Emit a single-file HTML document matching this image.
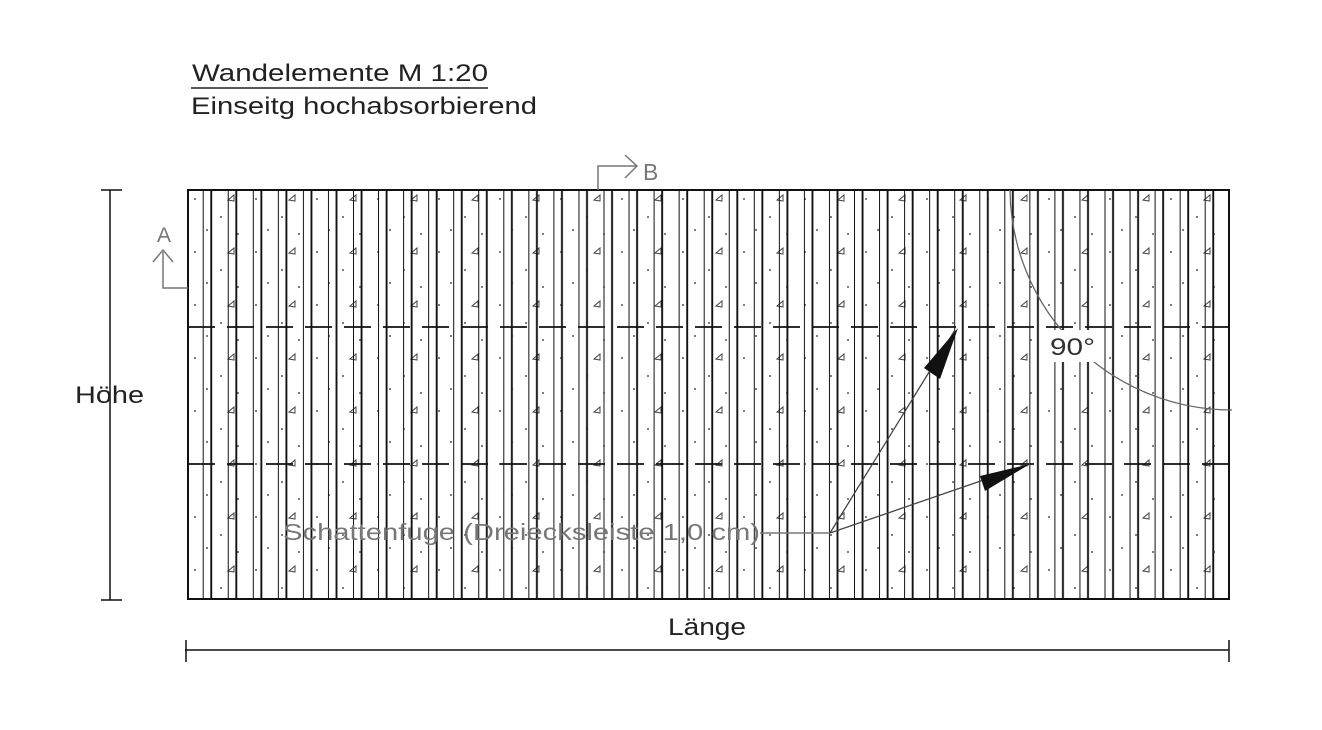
<!DOCTYPE html>
<html><head><meta charset="utf-8"><style>
html,body{margin:0;padding:0;background:#fff;}
svg{display:block;font-family:"Liberation Sans",Arial,sans-serif;}
</style></head><body>
<svg width="1322" height="730" viewBox="0 0 1322 730" xmlns="http://www.w3.org/2000/svg">
<defs>
<pattern id="st" x="202.7" y="0" width="25.05" height="730" patternUnits="userSpaceOnUse">
<rect x="-0.9" y="0" width="1.9" height="730" fill="#111"/>
<rect x="7.6" y="0" width="1.9" height="730" fill="#111"/>
</pattern>
<pattern id="dots" x="188" y="190" width="61" height="53" patternUnits="userSpaceOnUse">
<circle cx="7" cy="9" r="0.9" fill="#222"/><circle cx="33" cy="27" r="0.9" fill="#222"/>
<circle cx="50" cy="44" r="0.9" fill="#222"/><circle cx="19" cy="40" r="0.9" fill="#222"/>
<path d="M40 10 l6 -5 l0 6 z" fill="none" stroke="#444" stroke-width="1"/>
</pattern>
</defs>
<text x="192" y="81" font-size="24" fill="#222" textLength="296" lengthAdjust="spacingAndGlyphs">Wandelemente M 1:20</text>
<line x1="191" y1="88" x2="488" y2="88" stroke="#222" stroke-width="1.5"/>
<text x="191" y="114" font-size="24" fill="#222" textLength="346" lengthAdjust="spacingAndGlyphs">Einseitg hochabsorbierend</text>

<rect x="188" y="190" width="1041" height="409" fill="url(#dots)"/>
<rect x="188" y="190" width="1041" height="409" fill="url(#st)"/>
<rect x="188" y="190" width="1041" height="409" fill="none" stroke="#111" stroke-width="2"/>
<line x1="188" y1="327" x2="1229" y2="327" stroke="#111" stroke-width="1.8" stroke-dasharray="27 12"/>
<line x1="188" y1="464" x2="1229" y2="464" stroke="#111" stroke-width="1.8" stroke-dasharray="27 12"/>

<line x1="110" y1="190" x2="110" y2="600" stroke="#111" stroke-width="1.5"/>
<line x1="101" y1="190" x2="122" y2="190" stroke="#111" stroke-width="1.5"/>
<line x1="101" y1="600" x2="122" y2="600" stroke="#111" stroke-width="1.5"/>
<text x="75" y="403" font-size="24" fill="#222" textLength="69" lengthAdjust="spacingAndGlyphs">Höhe</text>
<line x1="185" y1="650" x2="1229" y2="650" stroke="#111" stroke-width="1.5"/>
<line x1="186" y1="640" x2="186" y2="662" stroke="#111" stroke-width="1.5"/>
<line x1="1229" y1="640" x2="1229" y2="662" stroke="#111" stroke-width="1.5"/>
<text x="668" y="635" font-size="24" fill="#222" textLength="78" lengthAdjust="spacingAndGlyphs">Länge</text>

<text x="157" y="242" font-size="21" fill="#777">A</text>
<polyline points="188,288 163,288 163,252" fill="none" stroke="#777" stroke-width="1.5"/>
<polyline points="153,262 163,250 173,262" fill="none" stroke="#777" stroke-width="1.5"/>
<polyline points="598,190 598,166 636,166" fill="none" stroke="#777" stroke-width="1.5"/>
<polyline points="625,155 637,166 625,178" fill="none" stroke="#777" stroke-width="1.5"/>
<text x="643" y="180" font-size="23" fill="#777">B</text>

<path d="M1010 190 A222 222 0 0 0 1232 410" fill="none" stroke="#666" stroke-width="1.3"/>
<rect x="1046" y="330" width="54" height="32" fill="#fff"/>
<text x="1050" y="355" font-size="24" fill="#333" textLength="45" lengthAdjust="spacingAndGlyphs">90°</text>

<text x="283" y="540" font-size="23" fill="#777" textLength="477" lengthAdjust="spacingAndGlyphs">Schattenfuge (Dreiecksleiste 1,0 cm)</text>
<line x1="760" y1="533" x2="830" y2="533" stroke="#777" stroke-width="1.5"/>
<line x1="830" y1="533" x2="955" y2="330" stroke="#444" stroke-width="1.3"/>
<polygon points="958,328 924,368 940,379" fill="#111"/>
<line x1="830" y1="533" x2="1030" y2="464" stroke="#444" stroke-width="1.3"/>
<polygon points="1030,464 980,476 985,491" fill="#111"/>
</svg>
</body></html>
